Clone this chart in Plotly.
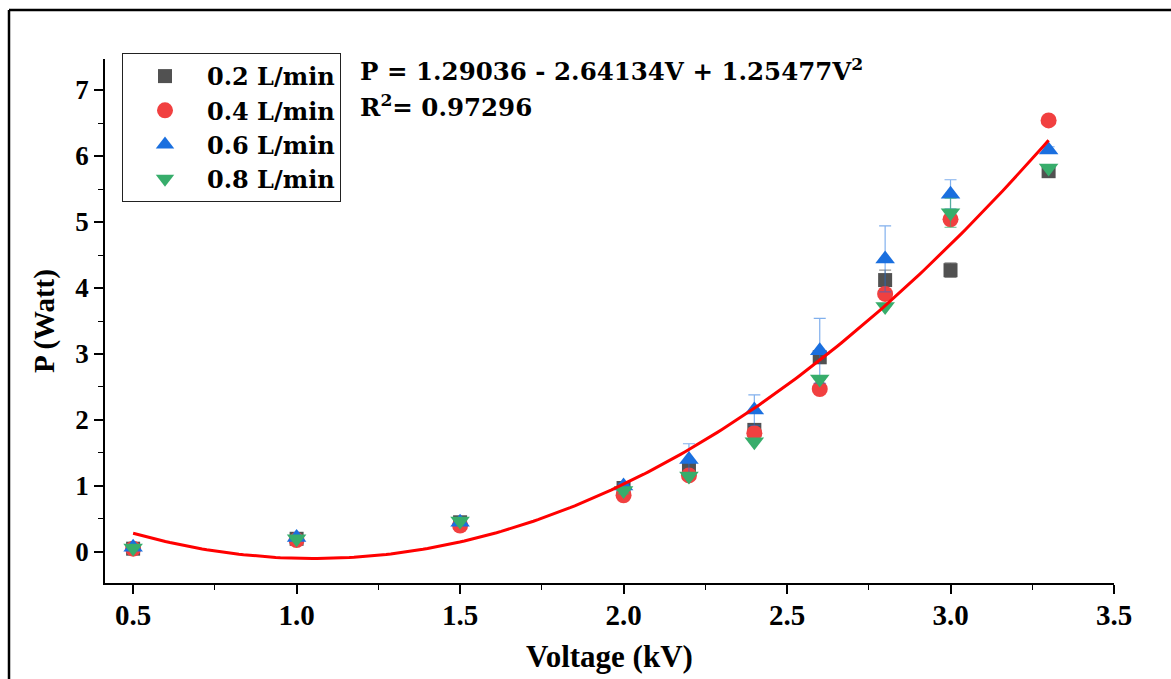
import plotly.graph_objects as go
import numpy as np

voltage = [0.5, 1.0, 1.5, 2.0, 2.2, 2.4, 2.6, 2.8, 3.0, 3.3]
p_02 = [0.05, 0.20, 0.45, 0.97, 1.26, 1.85, 2.95, 4.12, 4.27, 5.77]
p_04 = [0.05, 0.18, 0.40, 0.86, 1.16, 1.80, 2.47, 3.91, 5.04, 6.54]
p_06 = [0.07, 0.22, 0.45, 1.00, 1.40, 2.15, 3.05, 4.44, 5.42, 6.09]
p_08 = [0.06, 0.20, 0.47, 0.93, 1.15, 1.67, 2.62, 3.72, 5.14, 5.82]
err_02 = [0.0, 0.0, 0.0, 0.0, 0.0, 0.0, 0.08, 0.15, 0.11, 0.05]
err_04 = [0.0, 0.0, 0.0, 0.0, 0.0, 0.0, 0.0, 0.0, 0.0, 0.0]
err_06 = [0.02, 0.02, 0.03, 0.04, 0.24, 0.23, 0.49, 0.50, 0.22, 0.05]
err_08 = [0.0, 0.0, 0.0, 0.05, 0.0, 0.0, 0.0, 0.0, 0.22, 0.0]
series_names = ["0.2 L/min", "0.4 L/min", "0.6 L/min", "0.8 L/min"]
fit_coef = [1.29036, -2.64134, 1.25477]
r_squared = 0.97296

colors = ["#515151", "#F14040", "#1A6FDF", "#37AD6B"]
err_colors = ["rgba(81,81,81,0.6)", "rgba(241,64,64,0.6)", "rgba(26,111,223,0.55)", "rgba(55,173,107,0.6)"]
symbols = ["square", "circle", "triangle-up", "triangle-down"]
sizes = [14, 16, 17, 17]

fig = go.Figure()
for name, ys, errs, c, ec, s, sz in zip(series_names, [p_02, p_04, p_06, p_08],
                                        [err_02, err_04, err_06, err_08],
                                        colors, err_colors, symbols, sizes):
    fig.add_trace(go.Scatter(
        x=voltage, y=ys, mode="markers", name=name,
        marker=dict(symbol=s, size=sz, color=c, line=dict(width=0)),
        error_y=dict(type="data", array=errs, visible=True, color=ec, thickness=1.2, width=6),
    ))

vfit = np.linspace(voltage[0], voltage[-1], 200)
pfit = fit_coef[0] + fit_coef[1] * vfit + fit_coef[2] * vfit ** 2
fig.add_trace(go.Scatter(x=vfit, y=pfit, mode="lines", showlegend=False,
                         line=dict(color="#FF0000", width=3), hoverinfo="skip"))

serif = "Liberation Serif"
wide_serif = "DejaVu Serif"
L, R, T, B = 105, 57, 59, 96
W, H = 1171, 679
pw, ph = W - L - R, H - T - B

def px(xp):
    return (xp - L) / pw

def py(yp):
    return (H - B - yp) / ph

fig.update_layout(
    width=W, height=H,
    margin=dict(l=L, r=R, t=T, b=B),
    paper_bgcolor="white", plot_bgcolor="white",
    font=dict(family=serif, color="black"),
    showlegend=True,
    legend=dict(x=px(122), y=py(53), xanchor="left", yanchor="top",
                bordercolor="#222", borderwidth=1, bgcolor="white",
                font=dict(family=wide_serif, size=24, color="black", weight="bold"),
                itemwidth=74, tracegroupgap=0),
    xaxis=dict(range=[0.414, 3.5], dtick=0.5, tick0=0.5, tickformat=".1f",
               showgrid=False, zeroline=False, showline=True, linecolor="black", linewidth=1.5,
               ticks="outside", ticklen=9, tickwidth=1.5, tickcolor="black",
               minor=dict(ticks="outside", ticklen=5, dtick=0.25, tickcolor="black", tickwidth=1.2),
               ticklabelstandoff=-4,
               tickfont=dict(family=serif, size=29, color="black", weight="bold"),
               title=dict(text="Voltage (kV)", standoff=16,
                          font=dict(family=serif, size=31, color="black", weight="bold"))),
    yaxis=dict(range=[-0.47, 7.47], dtick=1, tick0=0,
               showgrid=False, zeroline=False, showline=True, linecolor="black", linewidth=1.5,
               ticks="outside", ticklen=9, tickwidth=1.5, tickcolor="black",
               minor=dict(ticks="outside", ticklen=5, dtick=0.5, tickcolor="black", tickwidth=1.2),
               tickfont=dict(family=serif, size=27, color="black", weight="bold"),
               title=dict(text="P (Watt)", standoff=12,
                          font=dict(family=serif, size=29, color="black", weight="bold"))),
)

eq_text = "P = %.5f - %.5fV + %.5fV<sup>2</sup>" % (fit_coef[0], -fit_coef[1], fit_coef[2])
r2_text = "R<sup>2</sup>= %.5f" % r_squared
fig.add_annotation(x=px(358), y=py(52), xref="paper", yref="paper", xanchor="left", yanchor="top",
                   text=eq_text, showarrow=False,
                   font=dict(family=wide_serif, size=24.5, color="black", weight="bold"))
fig.add_annotation(x=px(358), y=py(88), xref="paper", yref="paper", xanchor="left", yanchor="top",
                   text=r2_text, showarrow=False,
                   font=dict(family=wide_serif, size=24.5, color="black", weight="bold"))

# outer frame
fig.add_shape(type="line", xref="paper", yref="paper", x0=px(9), x1=px(9), y0=py(H + 5), y1=py(10),
              line=dict(color="black", width=2.5))
fig.add_shape(type="line", xref="paper", yref="paper", x0=px(9), x1=px(W + 5), y0=py(10), y1=py(10),
              line=dict(color="black", width=2.5))

fig.write_html("out.html")
